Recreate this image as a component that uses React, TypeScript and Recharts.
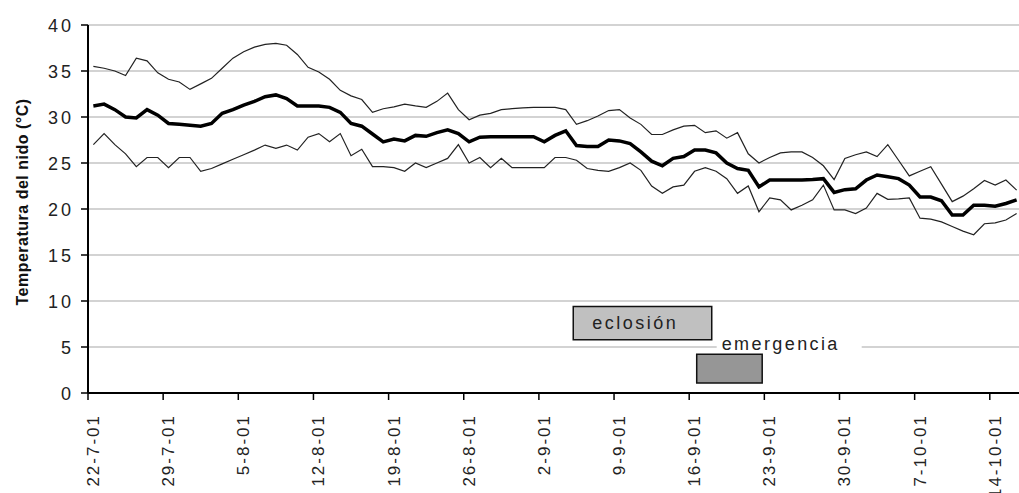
import { LineChart, Line, XAxis, YAxis, CartesianGrid, ReferenceArea } from "recharts";

// days since 22-7-01, weekly ticks
const TICK_DAYS = [0, 7, 14, 21, 28, 35, 42, 49, 56, 63, 70, 77, 84];
const TICK_LABELS = ["22-7-01","29-7-01","5-8-01","12-8-01","19-8-01","26-8-01","2-9-01","9-9-01","16-9-01","23-9-01","30-9-01","7-10-01","14-10-01"];
const Y_TICKS = [0, 5, 10, 15, 20, 25, 30, 35, 40];

const T_MAX = [35.5,35.3,35.0,34.5,36.4,36.1,34.8,34.1,33.8,33.0,33.6,34.2,35.3,36.4,37.1,37.6,37.9,38.0,37.8,36.8,35.4,34.9,34.1,32.9,32.3,31.9,30.5,30.9,31.1,31.4,31.2,31.05,31.7,32.6,30.8,29.7,30.2,30.4,30.8,30.9,31.0,31.05,31.05,31.05,30.8,29.2,29.6,30.1,30.7,30.8,29.9,29.2,28.1,28.1,28.6,29.0,29.1,28.3,28.5,27.7,28.3,26.0,25.0,25.6,26.1,26.2,26.2,25.6,24.7,23.2,25.5,25.9,26.2,25.7,27.0,25.3,23.6,24.1,24.6,22.7,20.8,21.4,22.2,23.1,22.6,23.15,22.05];
const T_MEAN = [31.2,31.4,30.8,30.0,29.9,30.8,30.2,29.3,29.2,29.1,29.0,29.3,30.4,30.8,31.3,31.7,32.2,32.4,32.0,31.2,31.2,31.2,31.05,30.5,29.3,29.0,28.15,27.3,27.6,27.4,28.0,27.9,28.3,28.6,28.2,27.3,27.8,27.85,27.85,27.85,27.85,27.85,27.3,28.0,28.5,26.9,26.8,26.8,27.5,27.4,27.1,26.2,25.2,24.7,25.5,25.7,26.4,26.4,26.1,25.0,24.4,24.2,22.4,23.15,23.15,23.15,23.15,23.2,23.3,21.8,22.1,22.2,23.15,23.7,23.5,23.3,22.6,21.3,21.3,20.9,19.35,19.35,20.4,20.4,20.3,20.6,21.0];
const T_MIN = [27.0,28.2,27.0,26.0,24.6,25.6,25.6,24.5,25.6,25.6,24.1,24.4,24.9,25.4,25.9,26.4,26.95,26.6,26.95,26.4,27.8,28.2,27.3,28.2,25.8,26.5,24.6,24.6,24.5,24.1,25.0,24.5,25.0,25.5,27.0,25.0,25.6,24.5,25.5,24.5,24.5,24.5,24.5,25.6,25.6,25.3,24.4,24.2,24.1,24.5,25.0,24.2,22.5,21.7,22.4,22.6,24.1,24.5,24.1,23.3,21.7,22.5,19.7,21.2,21.0,19.9,20.4,21.0,22.6,19.9,19.9,19.5,20.1,21.7,21.05,21.1,21.2,19.0,18.9,18.6,18.1,17.6,17.2,18.4,18.5,18.8,19.5];

// periods (start/end in days since 22-7-01, low/high just box height)
const EVENTS = [
  { name: "eclosión", start: 45.2, end: 58.1, low: 5.8, high: 9.4, fill: "#c0c0c0" },
  { name: "emergencia", start: 56.7, end: 62.8, low: 1.1, high: 4.2, fill: "#969696" },
];

const data = T_MEAN.map((v, i) => ({ x: i + 0.5, max: T_MAX[i], media: v, min: T_MIN[i] }));

const FONT = "'Liberation Sans', Arial, sans-serif";

function XTick({ x, y, payload }: any) {
  const label = TICK_LABELS[TICK_DAYS.indexOf(payload.value)];
  return (
    <text x={x} y={y} dy={11} transform={`rotate(-90 ${x} ${y})`} textAnchor="end"
      fontFamily={FONT} fontSize={17} letterSpacing={2} fill="#222">
      {label}
    </text>
  );
}

function YTick({ x, y, payload }: any) {
  return (
    <text x={x + 3} y={y} dy={6.5} textAnchor="end" fontFamily={FONT} fontSize={18} letterSpacing={3} fill="#222">
      {payload.value}
    </text>
  );
}

function EventLabel({ viewBox, name }: any) {
  if (name === "eclosión") {
    return (
      <text x={viewBox.x + 19} y={viewBox.y + viewBox.height / 2 + 6} fontFamily={FONT} fontSize={18} letterSpacing={2.5} fill="#222">
        {name}
      </text>
    );
  }
  return (
    <g>
      <rect x={viewBox.x + 20} y={viewBox.y - 19} width={145} height={17} fill="#fff" />
      <text x={viewBox.x + 25} y={viewBox.y - 4} fontFamily={FONT} fontSize={18} letterSpacing={2.4} fill="#222">
        {name}
      </text>
    </g>
  );
}

export default function App() {
  return (
    <div style={{ position: "absolute", left: 0, top: 0, width: 1019, height: 493, overflow: "hidden", background: "#fff" }}>
      <LineChart width={1030} height={493} data={data} margin={{ top: 25, right: 8, left: 0, bottom: 0 }}>
        <CartesianGrid horizontal vertical={false} stroke="#c4c4c4" strokeWidth={1.5} />
        <XAxis dataKey="x" type="number" domain={[0, 87]} ticks={TICK_DAYS} allowDataOverflow
          height={100} tick={<XTick />} tickSize={7} tickMargin={14}
          axisLine={{ stroke: "#000", strokeWidth: 2 }} tickLine={{ stroke: "#000", strokeWidth: 1.5 }} interval={0} />
        <YAxis type="number" domain={[0, 40]} ticks={Y_TICKS} width={88} tick={<YTick />} tickSize={7} tickMargin={10}
          axisLine={{ stroke: "#000", strokeWidth: 2 }} tickLine={{ stroke: "#000", strokeWidth: 1.5 }} interval={0}
          label={{
            content: () => (
              <text x={28} y={202} transform="rotate(-90 28 202)" textAnchor="middle" fontFamily={FONT}
                fontWeight="bold" fontSize={16} letterSpacing={0.5} fill="#111">
                Temperatura del nido (°C)
              </text>
            ),
          }} />
        {EVENTS.map(e => (
          <ReferenceArea key={e.name} x1={e.start} x2={e.end} y1={e.low} y2={e.high}
            fill={e.fill} fillOpacity={1} stroke="#111" strokeWidth={1.5} ifOverflow="visible"
            label={<EventLabel name={e.name} />} />
        ))}
        <Line type="linear" dataKey="max" stroke="#222" strokeWidth={1.2} dot={false} isAnimationActive={false} />
        <Line type="linear" dataKey="min" stroke="#222" strokeWidth={1.2} dot={false} isAnimationActive={false} />
        <Line type="linear" dataKey="media" stroke="#000" strokeWidth={3.5} dot={false} isAnimationActive={false} />
      </LineChart>
    </div>
  );
}
